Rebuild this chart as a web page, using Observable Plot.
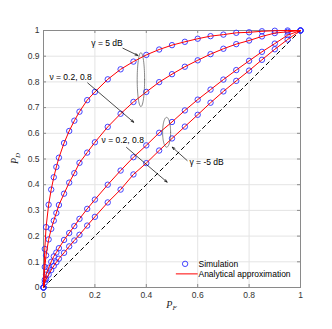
<!DOCTYPE html>
<html><head><meta charset="utf-8">
<script src="https://cdn.jsdelivr.net/npm/d3@7"></script>
<script src="https://cdn.jsdelivr.net/npm/@observablehq/plot@0.6"></script>
<style>body{margin:0;background:#fff;} #chart{width:332px;height:329px;}</style>
</head><body><div id="chart"></div>
<script>
// ---- data ----
const pf = [0, 0.005, 0.01, 0.02, 0.03, 0.04, 0.05, 0.06, 0.08, 0.1, 0.12, 0.14, 0.17, 0.2, 0.25, 0.3, 0.35, 0.4, 0.45, 0.5, 0.55, 0.6, 0.65, 0.7, 0.75, 0.8, 0.85, 0.9, 0.95, 1];
const pdG5nuA = [0, 0.15, 0.235, 0.322, 0.381, 0.429, 0.469, 0.505, 0.562, 0.609, 0.649, 0.684, 0.729, 0.761, 0.81, 0.849, 0.879, 0.905, 0.926, 0.943, 0.956, 0.968, 0.978, 0.984, 0.991, 0.993, 0.997, 0.999, 1.0, 1];
const pdG5nuB = [0, 0.08, 0.125, 0.187, 0.228, 0.26, 0.29, 0.321, 0.365, 0.408, 0.445, 0.485, 0.525, 0.565, 0.625, 0.676, 0.722, 0.761, 0.799, 0.83, 0.859, 0.884, 0.908, 0.929, 0.947, 0.961, 0.977, 0.99, 0.995, 1];
const pdGm5nuA = [0, 0.03, 0.05, 0.077, 0.1, 0.121, 0.136, 0.153, 0.185, 0.212, 0.239, 0.267, 0.306, 0.342, 0.4, 0.455, 0.507, 0.553, 0.602, 0.644, 0.689, 0.731, 0.77, 0.809, 0.846, 0.882, 0.917, 0.949, 0.982, 1];
const pdGm5nuB = [0, 0.02, 0.032, 0.05, 0.068, 0.084, 0.098, 0.112, 0.135, 0.16, 0.183, 0.205, 0.241, 0.275, 0.331, 0.381, 0.44, 0.484, 0.533, 0.58, 0.626, 0.672, 0.719, 0.763, 0.804, 0.844, 0.886, 0.927, 0.965, 1];
const seriesNames = ["γ=5 dB, ν=0.2", "γ=5 dB, ν=0.8", "γ=-5 dB, ν=0.2", "γ=-5 dB, ν=0.8"];
const seriesValues = [pdG5nuA, pdG5nuB, pdGm5nuA, pdGm5nuB];
const xTicks = [0, 0.2, 0.4, 0.6, 0.8, 1];
const yTicks = [0, 0.1, 0.2, 0.3, 0.4, 0.5, 0.6, 0.7, 0.8, 0.9, 1];
const chanceLine = [{pf: 0, pd: 0}, {pf: 1, pd: 1}];
const legendLabels = ["Simulation", "Analytical approximation"];

// annotations (data coordinates)
const annoTexts = [
  {pf: 0.186, pd: 0.949, text: "γ = 5 dB"},
  {pf: 0.023, pd: 0.817, text: "ν = 0.2, 0.8"},
  {pf: 0.226, pd: 0.572, text: "ν = 0.2, 0.8"},
  {pf: 0.568, pd: 0.486, text: "γ = -5 dB"}
];
const annoArrows = [
  {x1: 0.309, y1: 0.931, x2: 0.367, y2: 0.903},
  {x1: 0.172, y1: 0.796, x2: 0.351, y2: 0.643},
  {x1: 0.323, y1: 0.545, x2: 0.481, y2: 0.41},
  {x1: 0.559, y1: 0.494, x2: 0.501, y2: 0.546}
];
const annoEllipses = [
  {cx: 0.379, cy: 0.809, rx: 0.0144, ry: 0.105},
  {cx: 0.479, cy: 0.604, rx: 0.0156, ry: 0.058}
];
const legendPos = {x: 0.551, xl1: 0.515, xl2: 0.6, xt: 0.603, ySim: 0.092, yAna: 0.053};

// ---- build ----
const rows = [];
seriesNames.forEach((s, i) => pf.forEach((x, j) => rows.push({series: s, pf: x, pd: seriesValues[i][j]})));
const ellipsePts = [];
annoEllipses.forEach((e, k) => {
  for (let i = 0; i <= 72; i++) {
    const t = i / 72 * 2 * Math.PI;
    ellipsePts.push({k, x: e.cx + e.rx * Math.cos(t), y: e.cy + e.ry * Math.sin(t)});
  }
});
const axisCol = "#8a8a8a";
const fmt = d => String(d);

const plot = Plot.plot({
  width: 332, height: 329,
  marginLeft: 43, marginRight: 32, marginTop: 30, marginBottom: 42,
  style: {fontFamily: "'Liberation Sans', Arial, sans-serif", fontSize: "8.5px", color: "#333", background: "#fff"},
  x: {domain: [0, 1]},
  y: {domain: [0, 1]},
  marks: [
    Plot.gridX(xTicks, {stroke: "#e4e4e4", strokeOpacity: 1}),
    Plot.gridY(yTicks, {stroke: "#e4e4e4", strokeOpacity: 1}),
    Plot.tickX(xTicks, {insetTop: 254, stroke: axisCol}),
    Plot.tickX(xTicks, {insetBottom: 254, stroke: axisCol}),
    Plot.tickY(yTicks, {insetRight: 254, stroke: axisCol}),
    Plot.tickY(yTicks, {insetLeft: 254, stroke: axisCol}),
    Plot.frame({stroke: axisCol}),
    Plot.axisX(xTicks, {tickSize: 0, tickPadding: 4, tickFormat: fmt, label: null, fill: "#333"}),
    Plot.axisY(yTicks, {tickSize: 0, tickPadding: 4, tickFormat: fmt, label: null, fill: "#333"}),
    Plot.line(chanceLine, {x: "pf", y: "pd", stroke: "#000", strokeWidth: 1, strokeDasharray: "4,3.5"}),
    Plot.dot(rows, {x: "pf", y: "pd", r: 2.7, stroke: "#2f2fff", strokeWidth: 0.9}),
    Plot.line(rows, {x: "pf", y: "pd", z: "series", stroke: "#ff0000", strokeWidth: 1}),
    Plot.line(ellipsePts, {x: "x", y: "y", z: "k", stroke: "#555", strokeWidth: 0.7}),
    Plot.arrow(annoArrows, {x1: "x1", y1: "y1", x2: "x2", y2: "y2", stroke: "#000", strokeWidth: 0.7, headLength: 6, headAngle: 40}),
    Plot.text(annoTexts, {x: "pf", y: "pd", text: "text", textAnchor: "start", fill: "#000", fontSize: 8.5}),
    Plot.dot([legendPos], {x: "x", y: "ySim", r: 2.7, stroke: "#2f2fff", strokeWidth: 0.9}),
    Plot.link([legendPos], {x1: "xl1", x2: "xl2", y1: "yAna", y2: "yAna", stroke: "#ff0000", strokeWidth: 1}),
    Plot.text([legendPos], {x: "xt", y: "ySim", text: () => legendLabels[0], textAnchor: "start", fill: "#000", fontSize: 8.5}),
    Plot.text([legendPos], {x: "xt", y: "yAna", text: () => legendLabels[1], textAnchor: "start", fill: "#000", fontSize: 8.5})
  ]
});

// axis labels with subscripts
const svg = d3.select(plot);
const xs = plot.scale("x"), ys = plot.scale("y");
const xl = svg.append("text").attr("x", xs.apply(0.5)).attr("y", 308)
  .attr("text-anchor", "middle").attr("font-family", "'Liberation Serif', serif")
  .attr("font-style", "italic").attr("font-size", 10).attr("fill", "#222");
xl.append("tspan").text("P");
xl.append("tspan").attr("font-size", 7).attr("dy", 2).text("F");
const yl = svg.append("text").attr("transform", `translate(18,${ys.apply(0.5)}) rotate(-90)`)
  .attr("text-anchor", "middle").attr("font-family", "'Liberation Serif', serif")
  .attr("font-style", "italic").attr("font-size", 10).attr("fill", "#222");
yl.append("tspan").text("P");
yl.append("tspan").attr("font-size", 7).attr("dy", 2).text("D");

document.getElementById("chart").append(plot);
</script>
</body></html>
